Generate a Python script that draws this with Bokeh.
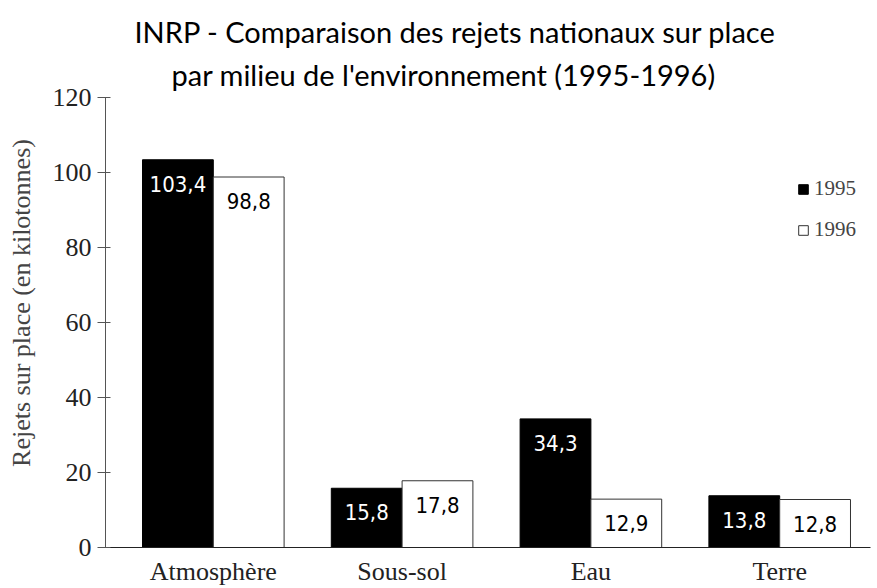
from bokeh.plotting import figure
from bokeh.models import ColumnDataSource, FixedTicker, Title, Legend, LegendItem, Range1d
from bokeh.core.properties import value
from bokeh.embed import file_html
from bokeh.resources import INLINE

categories = ["Atmosphère", "Sous-sol", "Eau", "Terre"]
v1995 = [103.4, 15.8, 34.3, 13.8]
v1996 = [98.8, 17.8, 12.9, 12.8]
lab1995 = ["103,4", "15,8", "34,3", "13,8"]
lab1996 = ["98,8", "17,8", "12,9", "12,8"]
yticks = [0, 20, 40, 60, 80, 100, 120]
title_lines = ["INRP - Comparaison des rejets nationaux sur place",
               "par milieu de l'environnement (1995-1996)"]

SERIF = "Liberation Serif"
NARROW = "DejaVu Sans Condensed, Roboto"

xs = list(range(len(categories)))
bw = 0.375
src95 = ColumnDataSource(dict(x=[x - bw / 2 for x in xs], top=v1995, lab=lab1995))
src96 = ColumnDataSource(dict(x=[x + bw / 2 for x in xs], top=v1996, lab=lab1996))

p = figure(width=877, height=588, output_backend="svg", toolbar_location=None,
           x_range=Range1d(-0.571, 3.481), y_range=Range1d(0, 120),
           min_border_left=105, min_border_right=7, min_border_top=97, min_border_bottom=34)
p.outline_line_color = None
p.xgrid.visible = False
p.ygrid.visible = False
p.background_fill_color = "white"

r95 = p.vbar(x="x", top="top", width=bw, bottom=0, source=src95,
             fill_color="black", line_color="black", line_width=1)
r96 = p.vbar(x="x", top="top", width=bw, bottom=0, source=src96,
             fill_color="white", line_color="#333333", line_width=1)

p.text(x="x", y="top", text="lab", source=src95, text_color="white",
       text_font=value(NARROW), text_font_size="22px", text_align="center",
       text_baseline="middle", y_offset=24)
p.text(x="x", y="top", text="lab", source=src96, text_color="black",
       text_font=value(NARROW), text_font_size="22px", text_align="center",
       text_baseline="middle", y_offset=24)

# axes
p.yaxis.ticker = FixedTicker(ticks=yticks)
p.yaxis.axis_label = "\u00a0" * 6 + "Rejets sur place (en kilotonnes)"
p.yaxis.axis_label_text_font = SERIF
p.yaxis.axis_label_text_font_size = "26px"
p.yaxis.axis_label_text_font_style = "normal"
p.yaxis.axis_label_standoff = 14
p.yaxis.major_label_text_font = SERIF
p.yaxis.major_label_text_font_size = "26px"
p.yaxis.major_label_text_color = "#222222"
p.yaxis.axis_line_color = "#555555"
p.yaxis.major_tick_line_color = "#555555"
p.yaxis.major_tick_out = 8
p.yaxis.major_tick_in = 5
p.yaxis.minor_tick_line_color = None
p.yaxis.major_label_standoff = 6

p.xaxis.ticker = FixedTicker(ticks=xs)
p.xaxis.major_label_overrides = {i: c for i, c in enumerate(categories)}
p.xaxis.major_label_text_font = SERIF
p.xaxis.major_label_text_font_size = "26px"
p.xaxis.major_label_text_color = "#222222"
p.xaxis.axis_line_color = "#222222"
p.xaxis.major_tick_line_color = None
p.xaxis.minor_tick_line_color = None
p.xaxis.major_label_standoff = 3

# title (two lines)
t2 = Title(text=title_lines[1], align="left", offset=66,
           text_font="Lato", text_font_size="29px", text_font_style="normal",
           text_color="black", standoff=12, text_line_height=0.85)
t1 = Title(text=title_lines[0], align="left", offset=29,
           text_font="Lato", text_font_size="29px", text_font_style="normal",
           text_color="black", standoff=0, text_line_height=0.85)
p.add_layout(t2, "above")
p.add_layout(t1, "above")

legend = Legend(items=[LegendItem(label="1995", renderers=[r95]),
                       LegendItem(label="1996", renderers=[r96])],
                location=(692, 305), border_line_color=None,
                background_fill_alpha=0, label_text_font=SERIF,
                label_text_font_size="21px", glyph_width=12, glyph_height=12,
                label_height=24, label_standoff=5, spacing=16, margin=0, padding=4)
p.add_layout(legend)

open("out.html", "w").write(file_html(p, INLINE))
